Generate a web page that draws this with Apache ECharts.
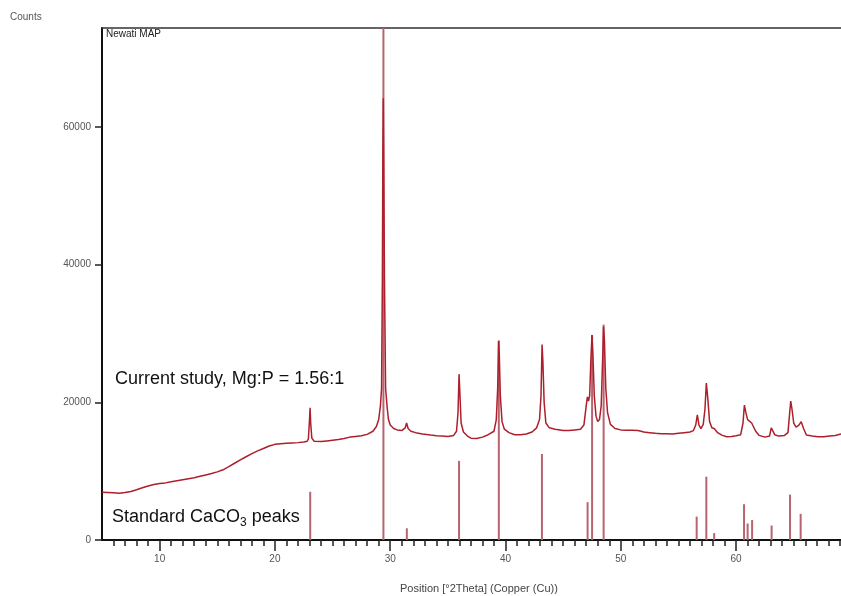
<!DOCTYPE html>
<html>
<head>
<meta charset="utf-8">
<title>XRD pattern</title>
<script src="https://cdn.jsdelivr.net/npm/echarts@6/dist/echarts.min.js"></script>
<style>
  html, body { margin: 0; padding: 0; background: #fff; }
  #main { width: 841px; height: 596px; }
</style>
</head>
<body>
<div id="main"></div>
<script>
// 测量曲线 (2Theta, counts)
var scanTheta = [
  5.0, 5.5, 6.0, 6.5, 7.0, 7.5, 8.0, 8.5, 9.0, 9.5, 10.0, 10.5, 11.0, 11.5, 12.0, 12.5, 13.0, 13.5, 14.0, 14.5,
  15.0, 15.5, 16.0, 16.5, 17.0, 17.5, 18.0, 18.5, 19.0, 19.5, 20.0, 20.5, 21.0, 21.5, 22.0, 22.5, 22.8, 22.9,
  23.0, 23.05, 23.1, 23.2, 23.4, 24.0, 24.5, 25.0, 25.5, 26.0, 26.5, 27.0, 27.5, 28.0, 28.5, 28.8, 29.0, 29.15,
  29.25, 29.32, 29.36, 29.4, 29.44, 29.5, 29.6, 29.75, 29.85, 30.0, 30.3, 30.6, 31.0, 31.3, 31.42, 31.55, 31.8,
  32.2, 32.8, 33.5, 34.0, 34.5, 35.0, 35.5, 35.75, 35.88, 35.97, 36.05, 36.15, 36.35, 36.7, 37.0, 37.5, 38.0,
  38.5, 39.0, 39.2, 39.32, 39.4, 39.46, 39.55, 39.7, 39.9, 40.3, 40.8, 41.3, 41.8, 42.3, 42.7, 42.95, 43.08,
  43.17, 43.24, 43.35, 43.5, 43.8, 44.3, 45.0, 45.5, 46.0, 46.5, 46.8, 47.0, 47.1, 47.2, 47.3, 47.4, 47.5,
  47.58, 47.7, 47.85, 48.0, 48.15, 48.3, 48.42, 48.5, 48.58, 48.7, 48.85, 49.1, 49.5, 50.0, 50.5, 51.0, 51.5,
  52.0, 52.5, 53.0, 53.5, 54.0, 54.5, 55.0, 55.5, 56.0, 56.3, 56.5, 56.64, 56.78, 56.95, 57.15, 57.3, 57.42,
  57.55, 57.7, 57.9, 58.1, 58.4, 58.8, 59.2, 59.6, 60.0, 60.4, 60.6, 60.72, 60.85, 61.0, 61.15, 61.35, 61.5,
  61.7, 62.0, 62.5, 62.9, 63.05, 63.15, 63.35, 63.7, 64.2, 64.5, 64.65, 64.74, 64.85, 65.0, 65.2, 65.45, 65.65,
  65.85, 66.1, 66.6, 67.1, 67.6, 68.1, 68.6, 69.1
];
var scanCounts = [
  6950, 6900, 6850, 6800, 6900, 7050, 7300, 7600, 7850, 8050, 8200, 8300, 8450, 8600, 8750, 8900, 9050, 9250, 9450, 9650,
  9900, 10200, 10650, 11150, 11650, 12100, 12550, 12950, 13300, 13650, 13900, 14000, 14050, 14100, 14150, 14250, 14350, 14700,
  17500, 19200, 17000, 14800, 14350, 14300, 14400, 14500, 14600, 14750, 14950, 15050, 15150, 15350, 15800, 16500, 17500, 19500,
  22000, 38000, 56000, 64200, 55000, 38000, 22000, 19000, 17500, 16700, 16200, 16000, 15900, 16300, 17000, 16200, 15800,
  15600, 15400, 15250, 15150, 15100, 15050, 15200, 15800, 18500, 24100, 21000, 17000, 15700, 15100, 14800, 14750, 14950,
  15300, 15800, 17500, 22000, 28900, 27000, 21000, 17200, 16100, 15600, 15300, 15300, 15400, 15700, 16300, 17500, 21000,
  28400, 26000, 20000, 17000, 16300, 16100, 15900, 15900, 16000, 16100, 16700, 19500, 20800, 20200, 21000, 26000, 29800,
  27000, 21000, 18000, 17200, 17500, 19500, 26000, 31000, 29000, 22000, 18500, 16800, 16200, 16000, 15950, 15950, 15900,
  15700, 15600, 15500, 15450, 15450, 15400, 15500, 15600, 15700, 15900, 16700, 18200, 16700, 16200, 16800, 19000, 22800,
  20500, 17200, 16300, 16200, 15600, 15200, 15000, 15050, 15150, 15300, 17000, 19600, 18500, 17500, 17400, 17000, 16800,
  15800, 15200, 14950, 15100, 16300, 16400, 15300, 15100, 15200, 15600, 18500, 20200, 19000, 17000, 16400, 16700, 17200,
  16200, 15250, 15100, 15000, 15000, 15100, 15200, 15400
];

// 标准 CaCO3 衍射峰
var stdTheta = [23.06, 29.41, 31.44, 35.97, 39.42, 43.16, 47.12, 47.51, 48.51, 56.58, 57.42, 58.10, 60.69, 61.00, 61.39, 63.08, 64.68, 65.60];
var stdCounts = [7000, 80000, 1700, 11500, 29000, 12500, 5500, 29800, 31300, 3400, 9200, 1000, 5200, 2400, 2900, 2100, 6600, 3800];

// 刻度
var xMajorTicks = [10, 20, 30, 40, 50, 60];
var xMinorTicks = [];
for (var t = 6; t <= 69; t++) {
  if (t % 10 !== 0) xMinorTicks.push(t);
}
var yTicks = [0, 20000, 40000, 60000];

var font = '"Liberation Sans", Arial, sans-serif';
var xMin = 5;
var xMax = 69.1;

var scanData = scanTheta.map(function (x, i) { return [x, scanCounts[i]]; });
var stdData = stdTheta.map(function (x, i) { return [x, stdCounts[i]]; });

var myChart = echarts.init(document.getElementById('main'), null, { renderer: 'canvas' });

var option = {
  backgroundColor: '#ffffff',
  animation: false,
  grid: {
    left: 102,
    right: 0,
    top: 28,
    bottom: 56,
    show: false
  },
  xAxis: [
    {
      // 主刻度 + 标签
      type: 'value',
      min: xMin,
      max: xMax,
      position: 'bottom',
      axisLine: { show: true, onZero: false, lineStyle: { color: '#111', width: 2 } },
      axisTick: { show: true, customValues: xMajorTicks, length: 11, lineStyle: { color: '#222', width: 1.5 } },
      axisLabel: { customValues: xMajorTicks, margin: 14, fontSize: 10, color: '#555', fontFamily: font },
      splitLine: { show: false }
    },
    {
      // 次刻度
      type: 'value',
      min: xMin,
      max: xMax,
      position: 'bottom',
      axisLine: { show: false, onZero: false },
      axisTick: { show: true, customValues: xMinorTicks, length: 6, lineStyle: { color: '#222', width: 1.5 } },
      axisLabel: { show: false },
      splitLine: { show: false }
    },
    {
      // 顶部边框线
      type: 'value',
      min: xMin,
      max: xMax,
      position: 'top',
      axisLine: { show: true, onZero: false, lineStyle: { color: '#333', width: 1.5 } },
      axisTick: { show: false },
      axisLabel: { show: false },
      splitLine: { show: false }
    }
  ],
  yAxis: {
    type: 'value',
    min: 0,
    max: 74400,
    axisLine: { show: true, lineStyle: { color: '#111', width: 2 } },
    axisTick: { show: true, customValues: yTicks, length: 7, lineStyle: { color: '#222', width: 1.5 } },
    axisLabel: {
      customValues: yTicks,
      margin: 11,
      fontSize: 10,
      color: '#555',
      fontFamily: font,
      formatter: function (v) { return String(v); }
    },
    splitLine: { show: false }
  },
  series: [
    {
      name: 'Standard CaCO3',
      type: 'bar',
      xAxisIndex: 0,
      data: stdData,
      barWidth: 2,
      itemStyle: { color: '#b8646f' },
      z: 2
    },
    {
      name: 'Newati MAP',
      type: 'line',
      xAxisIndex: 0,
      data: scanData,
      showSymbol: false,
      symbol: 'none',
      lineStyle: { color: '#ad1f2b', width: 1.5 },
      z: 3
    }
  ],
  graphic: [
    { type: 'text', left: 10, top: 12, style: { text: 'Counts', fontSize: 10, fill: '#555', fontFamily: font } },
    { type: 'text', left: 106, top: 29, style: { text: 'Newati MAP', fontSize: 10, fill: '#222', fontFamily: font } },
    { type: 'text', left: 400, top: 583, style: { text: 'Position [°2Theta] (Copper (Cu))', fontSize: 11, fill: '#444', fontFamily: font } },
    { type: 'text', left: 115, top: 370, style: { text: 'Current study, Mg:P = 1.56:1', fontSize: 18, fill: '#111', fontFamily: font } },
    {
      type: 'text',
      left: 112,
      top: 508,
      style: {
        text: '{a|Standard CaCO}{s|3}{a| peaks}',
        fontFamily: font,
        rich: {
          a: { fontSize: 18, lineHeight: 24, fill: '#111', fontFamily: font },
          s: { fontSize: 12, lineHeight: 13, verticalAlign: 'bottom', fill: '#111', fontFamily: font }
        }
      }
    }
  ]
};

myChart.setOption(option);
</script>
</body>
</html>
